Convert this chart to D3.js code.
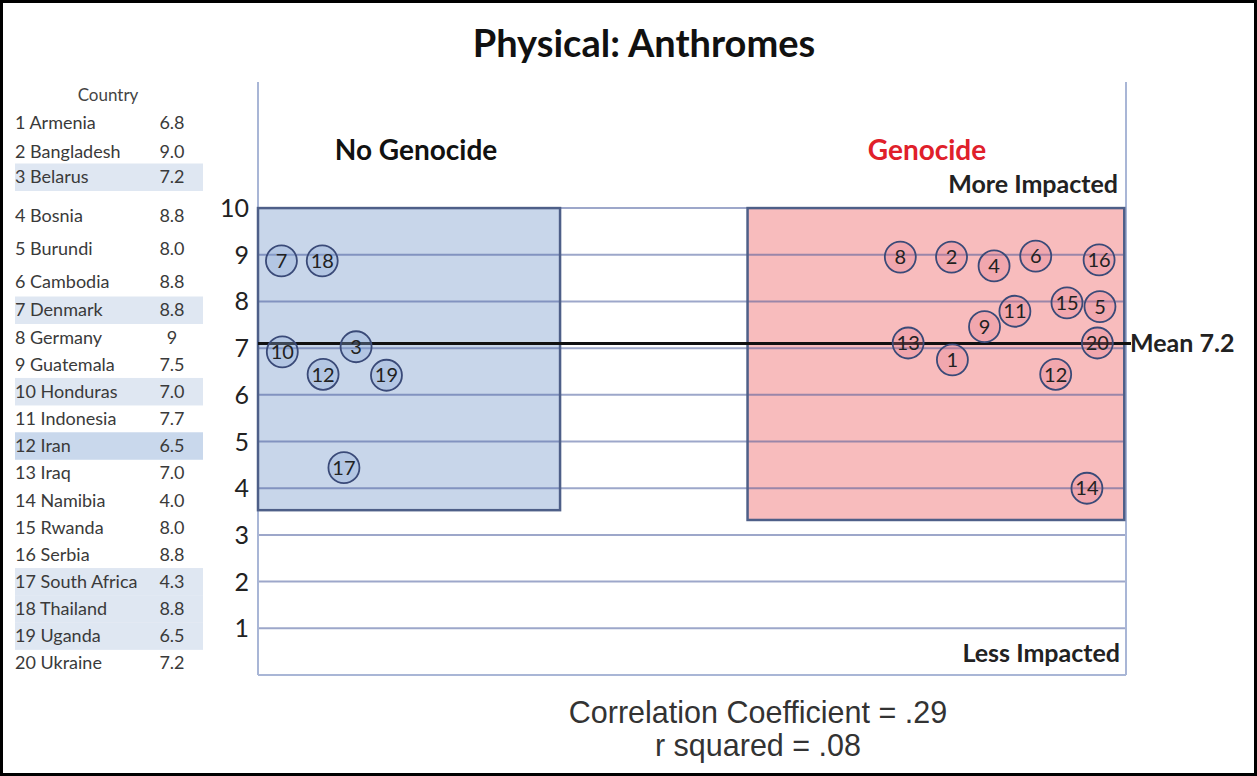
<!DOCTYPE html>
<html>
<head>
<meta charset="utf-8">
<script src="https://cdn.jsdelivr.net/npm/d3@7"></script>
<style>
  body { margin: 0; background: #fff; }
  svg { display: block; font-family: Lato, 'Open Sans', sans-serif; }
</style>
</head>
<body>
<div id="main"><svg width="1257" height="776"></svg></div>
<script>
// country table (left side)
var countryIds = [1, 2, 3, 4, 5, 6, 7, 8, 9, 10, 11, 12, 13, 14, 15, 16, 17, 18, 19, 20];
var countryNames = ['Armenia', 'Bangladesh', 'Belarus', 'Bosnia', 'Burundi', 'Cambodia', 'Denmark',
  'Germany', 'Guatemala', 'Honduras', 'Indonesia', 'Iran', 'Iraq', 'Namibia', 'Rwanda', 'Serbia',
  'South Africa', 'Thailand', 'Uganda', 'Ukraine'];
var countryScores = ['6.8', '9.0', '7.2', '8.8', '8.0', '8.8', '8.8', '9', '7.5', '7.0', '7.7', '6.5',
  '7.0', '4.0', '8.0', '8.8', '4.3', '8.8', '6.5', '7.2'];

// points as placed in the picture (x: 0-100 across the plot, y: score axis)
var noGenIds = [7, 18, 10, 3, 12, 19, 17];
var noGenX = [2.7, 7.4, 2.8, 11.3, 7.5, 14.8, 9.9];
var noGenY = [8.87, 8.87, 6.92, 7.03, 6.44, 6.42, 4.44];

var genIds = [8, 2, 4, 6, 16, 15, 5, 11, 9, 13, 1, 20, 12, 14];
var genX = [74.0, 79.9, 84.8, 89.6, 96.9, 93.2, 97.0, 87.2, 83.7, 74.9, 80.0, 96.7, 91.9, 95.5];
var genY = [8.95, 8.95, 8.76, 8.97, 8.89, 7.97, 7.89, 7.79, 7.46, 7.11, 6.75, 7.11, 6.44, 4.0];

// group boxes
var groupNames = ['No Genocide', 'Genocide'];
var boxX0 = [0, 56.4];
var boxX1 = [34.8, 99.8];
var boxLow = [3.53, 3.32];
var boxHigh = [10, 10];

var yTicks = [1, 2, 3, 4, 5, 6, 7, 8, 9, 10];
var meanValue = 7.2;
var meanLineLevel = 7.1;
var corrText = ['Correlation Coefficient = .29', 'r squared = .08'];

(function () {
var svg = d3.select('#main').select('svg');
var W = +svg.attr('width');
var H = +svg.attr('height');

var plot = {l: 258, r: 1126, t: 82, b: 675};

var x = d3.scaleLinear().domain([0, 100]).range([plot.l, plot.r]);
var y = d3.scaleLinear().domain([0, 12.7]).range([plot.b, plot.t]);

// table rows are not evenly spaced in the original
var rowY = d3.scaleLinear()
  .domain([1, 2, 3, 4, 6, 7, 20])
  .range([123, 152, 177, 216, 282, 310, 663]);

var noGenSet = new Set(noGenIds);

// outer frame
svg.append('rect')
  .attr('x', 1.5).attr('y', 1.5)
  .attr('width', W - 3).attr('height', H - 3)
  .attr('fill', '#fff')
  .attr('stroke', '#000')
  .attr('stroke-width', 3);

// title
svg.append('text')
  .attr('x', 644).attr('y', 57)
  .attr('text-anchor', 'middle')
  .style('font-size', '38px')
  .style('font-weight', 'bold')
  .attr('fill', '#111')
  .text('Physical: Anthromes');

// ---- table ----
var tableG = svg.append('g').attr('class', 'table');

tableG.selectAll('.band')
  .data(countryIds.filter(function(d) { return noGenSet.has(d); }))
  .enter()
  .append('rect')
  .attr('class', 'band')
  .attr('x', 15)
  .attr('width', 188)
  .attr('y', function(d) { return rowY(d) - 13.5; })
  .attr('height', 27.5)
  .attr('fill', function(d) { return d === 12 ? '#c9d8ec' : '#dfe7f2'; });

tableG.append('text')
  .attr('x', 108).attr('y', 101)
  .attr('text-anchor', 'middle')
  .style('font-size', '17px')
  .attr('fill', '#444')
  .text('Country');

var rows = tableG.selectAll('.row')
  .data(countryIds)
  .enter()
  .append('g')
  .attr('class', 'row');

rows.append('text')
  .attr('x', 15)
  .attr('y', function(d) { return rowY(d); })
  .attr('dy', '0.36em')
  .style('font-size', '18px')
  .attr('fill', '#3a3a3a')
  .text(function(d, i) { return d + ' ' + countryNames[i]; });

rows.append('text')
  .attr('x', 172)
  .attr('y', function(d) { return rowY(d); })
  .attr('dy', '0.36em')
  .attr('text-anchor', 'middle')
  .style('font-size', '18px')
  .attr('fill', '#3a3a3a')
  .text(function(d, i) { return countryScores[i]; });

// ---- plot ----
var plotG = svg.append('g').attr('class', 'plot');

// group boxes fill
plotG.selectAll('.box')
  .data(groupNames)
  .enter()
  .append('rect')
  .attr('class', 'box')
  .attr('x', function(d, i) { return x(boxX0[i]); })
  .attr('width', function(d, i) { return x(boxX1[i]) - x(boxX0[i]); })
  .attr('y', function(d, i) { return y(boxHigh[i]); })
  .attr('height', function(d, i) { return y(boxLow[i]) - y(boxHigh[i]); })
  .attr('fill', function(d, i) { return i === 0 ? '#c8d6ea' : '#f8bcbd'; });

// gridlines
plotG.selectAll('.grid')
  .data(yTicks)
  .enter()
  .append('line')
  .attr('class', 'grid')
  .attr('x1', plot.l).attr('x2', plot.r)
  .attr('y1', function(d) { return y(d); })
  .attr('y2', function(d) { return y(d); })
  .attr('stroke', 'rgba(60,80,150,0.5)')
  .attr('stroke-width', 2);

// axis frame lines
plotG.append('line')
  .attr('x1', plot.l).attr('x2', plot.l)
  .attr('y1', plot.t).attr('y2', plot.b)
  .attr('stroke', '#a9b6d6').attr('stroke-width', 2);
plotG.append('line')
  .attr('x1', plot.r).attr('x2', plot.r)
  .attr('y1', plot.t).attr('y2', plot.b)
  .attr('stroke', '#a9b6d6').attr('stroke-width', 2);
plotG.append('line')
  .attr('x1', plot.l).attr('x2', plot.r)
  .attr('y1', plot.b).attr('y2', plot.b)
  .attr('stroke', '#a9b6d6').attr('stroke-width', 2);

// box borders
plotG.selectAll('.box-border')
  .data(groupNames)
  .enter()
  .append('rect')
  .attr('class', 'box-border')
  .attr('x', function(d, i) { return x(boxX0[i]); })
  .attr('width', function(d, i) { return x(boxX1[i]) - x(boxX0[i]); })
  .attr('y', function(d, i) { return y(boxHigh[i]); })
  .attr('height', function(d, i) { return y(boxLow[i]) - y(boxHigh[i]); })
  .attr('fill', 'none')
  .attr('stroke', '#4e5f88')
  .attr('stroke-width', 2.5);

// y tick labels
plotG.selectAll('.tick-label')
  .data(yTicks)
  .enter()
  .append('text')
  .attr('class', 'tick-label')
  .attr('x', 249)
  .attr('y', function(d) { return y(d); })
  .attr('dy', '0.36em')
  .attr('text-anchor', 'end')
  .style('font-size', '25px')
  .attr('fill', '#222')
  .text(function(d) { return d; });

// mean line
plotG.append('line')
  .attr('x1', plot.l).attr('x2', plot.r + 5)
  .attr('y1', y(meanLineLevel)).attr('y2', y(meanLineLevel))
  .attr('stroke', '#111')
  .attr('stroke-width', 3);

plotG.append('text')
  .attr('x', plot.r + 4)
  .attr('y', y(meanLineLevel))
  .attr('dy', '0.36em')
  .style('font-size', '25px')
  .style('font-weight', 'bold')
  .attr('fill', '#222')
  .text('Mean ' + meanValue.toFixed(1));

// points
function drawPoints(group, ids, xs, ys, fill) {
  var pts = group.selectAll('g')
    .data(ids)
    .enter()
    .append('g')
    .attr('transform', function(d, i) { return `translate(${x(xs[i])},${y(ys[i])})`; });

  pts.append('circle')
    .attr('r', 15.5)
    .attr('fill', fill)
    .attr('stroke', '#3a4a78')
    .attr('stroke-width', 1.8);

  pts.append('text')
    .attr('text-anchor', 'middle')
    .attr('dy', '0.36em')
    .style('font-size', '20px')
    .attr('fill', '#222')
    .text(function(d) { return d; });
}

drawPoints(plotG.append('g').attr('class', 'no-gen'), noGenIds, noGenX, noGenY, 'rgba(140,170,215,0.35)');
drawPoints(plotG.append('g').attr('class', 'gen'), genIds, genX, genY, 'rgba(225,120,140,0.3)');

// group headers
var headerX = [416, 927];
plotG.selectAll('.group-label')
  .data(groupNames)
  .enter()
  .append('text')
  .attr('class', 'group-label')
  .attr('x', function(d, i) { return headerX[i]; })
  .attr('y', 160)
  .attr('text-anchor', 'middle')
  .style('font-size', '28px')
  .style('font-weight', 'bold')
  .attr('fill', function(d, i) { return i === 0 ? '#111' : '#e0202a'; })
  .text(function(d) { return d; });

plotG.append('text')
  .attr('x', 1118).attr('y', 193)
  .attr('text-anchor', 'end')
  .style('font-size', '25px')
  .style('font-weight', 'bold')
  .attr('fill', '#222')
  .text('More Impacted');

plotG.append('text')
  .attr('x', 1120).attr('y', 662)
  .attr('text-anchor', 'end')
  .style('font-size', '25px')
  .style('font-weight', 'bold')
  .attr('fill', '#222')
  .text('Less Impacted');

// correlation note
svg.selectAll('.corr')
  .data(corrText)
  .enter()
  .append('text')
  .attr('class', 'corr')
  .attr('x', 758)
  .attr('y', function(d, i) { return 723 + i * 33; })
  .attr('text-anchor', 'middle')
  .style('font-family', "'Liberation Sans', Arial, sans-serif")
  .style('font-size', '30.5px')
  .attr('fill', '#333')
  .text(function(d) { return d; });
})();
</script>
</body>
</html>
